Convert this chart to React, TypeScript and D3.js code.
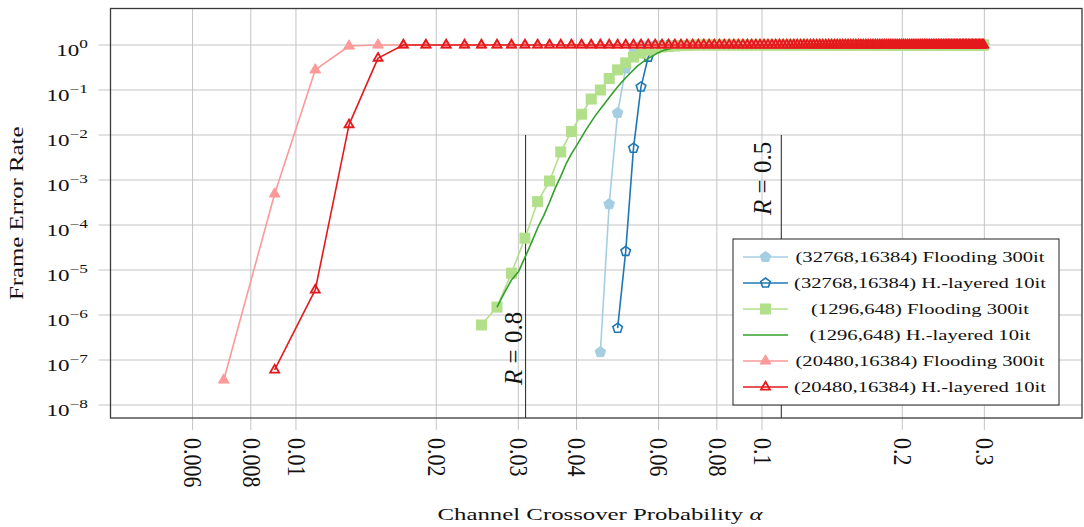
import React from 'react';
import * as d3 from 'd3';

// ---------- data ----------
// common crossover-probability grid used by the simulations (odd thousandths)
const alphaGrid = [
  0.007, 0.009, 0.011, 0.013, 0.015, 0.017, 0.019, 0.021, 0.023, 0.025, 0.027, 0.029, 0.031, 0.033, 0.035,
  0.037, 0.039, 0.041, 0.043, 0.045, 0.047, 0.049, 0.051, 0.053, 0.055, 0.057, 0.059, 0.061, 0.063, 0.065,
  0.067, 0.069, 0.071, 0.073, 0.075, 0.077, 0.079, 0.081, 0.083, 0.085, 0.087, 0.089, 0.091, 0.093, 0.095,
  0.097, 0.099, 0.101, 0.103, 0.105, 0.107, 0.109, 0.111, 0.113, 0.115, 0.117, 0.119, 0.121, 0.123, 0.125,
  0.127, 0.129, 0.131, 0.133, 0.135, 0.137, 0.139, 0.141, 0.143, 0.145, 0.147, 0.149, 0.151, 0.153, 0.155,
  0.157, 0.159, 0.161, 0.163, 0.165, 0.167, 0.169, 0.171, 0.173, 0.175, 0.177, 0.179, 0.181, 0.183, 0.185,
  0.187, 0.189, 0.191, 0.193, 0.195, 0.197, 0.199, 0.201, 0.203, 0.205, 0.207, 0.209, 0.211, 0.213, 0.215,
  0.217, 0.219, 0.221, 0.223, 0.225, 0.227, 0.229, 0.231, 0.233, 0.235, 0.237, 0.239, 0.241, 0.243, 0.245,
  0.247, 0.249, 0.251, 0.253, 0.255, 0.257, 0.259, 0.261, 0.263, 0.265, 0.267, 0.269, 0.271, 0.273, 0.275,
  0.277, 0.279, 0.281, 0.283, 0.285, 0.287, 0.289, 0.291, 0.293, 0.295, 0.297, 0.299,
];

// waterfall FER values, starting at the given alpha; FER is 1 for the rest of the grid
const lightBlueStart = 0.045;
const lightBlueFer = [1.5e-7, 2.9e-4, 3.1e-2, 0.3, 0.85];

const darkBlueStart = 0.049;
const darkBlueFer = [5.1e-7, 2.6e-5, 5.1e-3, 0.117, 0.54, 0.95];

const lightGreenStart = 0.025;
const lightGreenFer = [
  6.0e-7, 1.5e-6, 8.5e-6, 5.1e-5, 3.3e-4, 9.5e-4, 4.2e-3, 1.2e-2, 2.9e-2, 6.3e-2, 0.1, 0.18, 0.28, 0.4,
  0.54, 0.66, 0.77, 0.85, 0.9, 0.93, 0.95, 0.97, 0.98, 0.99,
];

const darkGreenAlpha = [
  0.027, 0.028, 0.029, 0.03, 0.031, 0.032, 0.033, 0.034, 0.035, 0.036, 0.037, 0.038, 0.039, 0.04, 0.042,
  0.044, 0.046, 0.048, 0.05, 0.052, 0.054, 0.056, 0.058, 0.06, 0.062, 0.065, 0.07, 0.075, 0.08, 0.299,
];
const darkGreenFer = [
  1.5e-6, 3.1e-6, 6e-6, 9e-6, 1.9e-5, 4e-5, 8.6e-5, 1.6e-4, 3.2e-4, 6.6e-4, 1.2e-3, 2.3e-3, 3.8e-3, 5.8e-3,
  1.35e-2, 2.8e-2, 5.1e-2, 9e-2, 0.15, 0.23, 0.34, 0.45, 0.56, 0.68, 0.78, 0.88, 0.96, 0.99, 1, 1,
];

const pinkStart = 0.007;
const pinkFer = [3.6e-8, 4.9e-4, 0.28, 0.95];

const redStart = 0.009;
const redFer = [6e-8, 3.6e-6, 1.7e-2, 0.51];

const xTicks = [0.006, 0.008, 0.01, 0.02, 0.03, 0.04, 0.06, 0.08, 0.1, 0.2, 0.3];
const xTickLabels = ['0.006', '0.008', '0.01', '0.02', '0.03', '0.04', '0.06', '0.08', '0.1', '0.2', '0.3'];
const yTickExps = [0, -1, -2, -3, -4, -5, -6, -7, -8];

const rateLimitAlpha = [0.0311, 0.11];
const rateLimitLabels = ['0.8', '0.5'];

const legendLabels = [
  '(32768,16384) Flooding 300it',
  '(32768,16384) H.-layered 10it',
  '(1296,648) Flooding 300it',
  '(1296,648) H.-layered 10it',
  '(20480,16384) Flooding 300it',
  '(20480,16384) H.-layered 10it',
];

// ---------- layout ----------
const W = 1084;
const H = 527;
const P = { left: 110.5, right: 1082, top: 8.5, bottom: 418 };
const FONT = "'Liberation Serif', 'Times New Roman', serif";
const GRID = '#c4c4c4';

const x = d3.scaleLog().domain([0.004, 0.486]).range([P.left, P.right]);
const y = d3.scaleLog().domain([1e-8, 1]).range([405, 45]);

type Pt = [number, number];
const fromGrid = (start: number, fer: number[]): Pt[] =>
  alphaGrid.filter((a) => a >= start - 1e-9).map((a, i) => [a, i < fer.length ? fer[i] : 1] as Pt);

type MarkerType = 'pentFilled' | 'pentOpen' | 'square' | 'none' | 'triFilled' | 'triOpen';

const series: { color: string; marker: MarkerType; pts: Pt[] }[] = [
  { color: '#a6cee3', marker: 'pentFilled', pts: fromGrid(lightBlueStart, lightBlueFer) },
  { color: '#1f78b4', marker: 'pentOpen', pts: fromGrid(darkBlueStart, darkBlueFer) },
  { color: '#b2df8a', marker: 'square', pts: fromGrid(lightGreenStart, lightGreenFer) },
  { color: '#33a02c', marker: 'none', pts: darkGreenAlpha.map((a, i) => [a, darkGreenFer[i]] as Pt) },
  { color: '#fb9a99', marker: 'triFilled', pts: fromGrid(pinkStart, pinkFer) },
  { color: '#e31a1c', marker: 'triOpen', pts: fromGrid(redStart, redFer) },
];

const pentPath = (r: number) =>
  d3.range(5).map((k) => {
    const t = ((-90 + 72 * k) * Math.PI) / 180;
    return `${k ? 'L' : 'M'}${(r * Math.cos(t)).toFixed(2)},${(r * Math.sin(t)).toFixed(2)}`;
  }).join('') + 'Z';
const triPath = (s: number) =>
  `M0,${-s}L${(0.866 * s).toFixed(2)},${(0.5 * s).toFixed(2)}L${(-0.866 * s).toFixed(2)},${(0.5 * s).toFixed(2)}Z`;

function Marker({ type, cx, cy, color }: { type: MarkerType; cx: number; cy: number; color: string }) {
  const t = `translate(${cx},${cy})`;
  switch (type) {
    case 'pentFilled':
      return <path transform={t} d={pentPath(5.6)} fill={color} stroke={color} strokeWidth={1} />;
    case 'pentOpen':
      return <path transform={t} d={pentPath(5)} fill="none" stroke={color} strokeWidth={1.6} />;
    case 'square':
      return <rect x={cx - 5} y={cy - 5} width={10} height={10} fill={color} stroke={color} strokeWidth={1} />;
    case 'triFilled':
      return <path transform={t} d={triPath(6.2)} fill={color} stroke={color} strokeWidth={1} />;
    case 'triOpen':
      return <path transform={t} d={triPath(5.2)} fill="none" stroke={color} strokeWidth={1.8} />;
    default:
      return null;
  }
}

const line = d3
  .line<Pt>()
  .x((d) => x(d[0]))
  .y((d) => y(d[1]));

export default function App() {
  const decades = yTickExps.map((e) => Math.pow(10, e));
  return (
    <svg
      width={W}
      height={H}
      viewBox={`0 0 ${W} ${H}`}
      style={{ position: 'absolute', left: 0, top: 0, background: '#fff' }}
      fontFamily={FONT}
    >
      <rect x={0} y={0} width={W} height={H} fill="#fff" />
      {/* grid */}
      {xTicks.map((t, i) => (
        <line key={'gx' + i} x1={x(t)} x2={x(t)} y1={P.top} y2={P.bottom + 12} stroke={GRID} strokeWidth={1} />
      ))}
      {decades.map((d, i) => (
        <line key={'gy' + i} x1={P.left - 12} x2={P.right} y1={y(d)} y2={y(d)} stroke={GRID} strokeWidth={1} />
      ))}

      {/* rate limit lines */}
      {rateLimitAlpha.map((a, i) => (
        <line key={'rl' + i} x1={x(a)} x2={x(a)} y1={y(1e-2)} y2={P.bottom} stroke="#222" strokeWidth={1} />
      ))}
      {rateLimitAlpha.map((a, i) => (
        <text
          key={'rt' + i}
          transform={`translate(${x(a) - (i === 0 ? 4 : 10)},${i === 0 ? 385 : 215}) rotate(-90)`}
          fontSize={25}
          fill="#111"
        >
          <tspan fontStyle="italic">R</tspan>
          {' = ' + rateLimitLabels[i]}
        </text>
      ))}

      {/* series */}
      {series.map((s, i) => (
        <g key={'s' + i}>
          <path d={line(s.pts) || ''} fill="none" stroke={s.color} strokeWidth={1.6} strokeLinejoin="round" />
          {s.marker !== 'none' &&
            s.pts.map((p, j) => <Marker key={j} type={s.marker} cx={x(p[0])} cy={y(p[1])} color={s.color} />)}
        </g>
      ))}

      {/* frame */}
      <rect
        x={P.left}
        y={P.top}
        width={P.right - P.left}
        height={P.bottom - P.top}
        fill="none"
        stroke="#3a3a3a"
        strokeWidth={1.3}
      />

      {/* y tick labels */}
      {yTickExps.map((e, i) => (
        <text
          key={'yl' + i}
          transform={`translate(88,${y(Math.pow(10, e)) + 11}) scale(1.44,1)`}
          textAnchor="end"
          fontSize={16}
          fill="#111"
        >
          10
          <tspan fontSize={12} dy={-8}>
            {e === 0 ? '0' : '\u2212' + -e}
          </tspan>
        </text>
      ))}

      {/* x tick labels */}
      {xTicks.map((t, i) => (
        <text
          key={'xl' + i}
          transform={`translate(${x(t)},438) rotate(90) scale(1,1.1)`}
          dy="0.34em"
          fontSize={22}
          fill="#111"
        >
          {xTickLabels[i]}
        </text>
      ))}

      {/* axis titles */}
      <text transform={`translate(600,520) scale(1.55,1)`} textAnchor="middle" fontSize={16} fill="#111">
        Channel Crossover Probability <tspan fontStyle="italic">α</tspan>
      </text>
      <text
        transform={`translate(23,${(P.top + P.bottom) / 2}) rotate(-90) scale(1.55,1.13)`}
        textAnchor="middle"
        fontSize={16}
        fill="#111"
      >
        Frame Error Rate
      </text>

      {/* legend */}
      <g>
        <rect x={733} y={239} width={326} height={166} fill="#fff" stroke="#222" strokeWidth={1} />
        {legendLabels.map((lab, i) => {
          const ly = 257 + 26 * i;
          const s = series[i];
          return (
            <g key={'lg' + i}>
              <line x1={743} x2={788} y1={ly} y2={ly} stroke={s.color} strokeWidth={1.6} />
              <Marker type={s.marker} cx={765.5} cy={ly} color={s.color} />
              <text transform={`translate(920,${ly + 5}) scale(1.375,1)`} textAnchor="middle" fontSize={15} fill="#111">
                {lab}
              </text>
            </g>
          );
        })}
      </g>
    </svg>
  );
}
